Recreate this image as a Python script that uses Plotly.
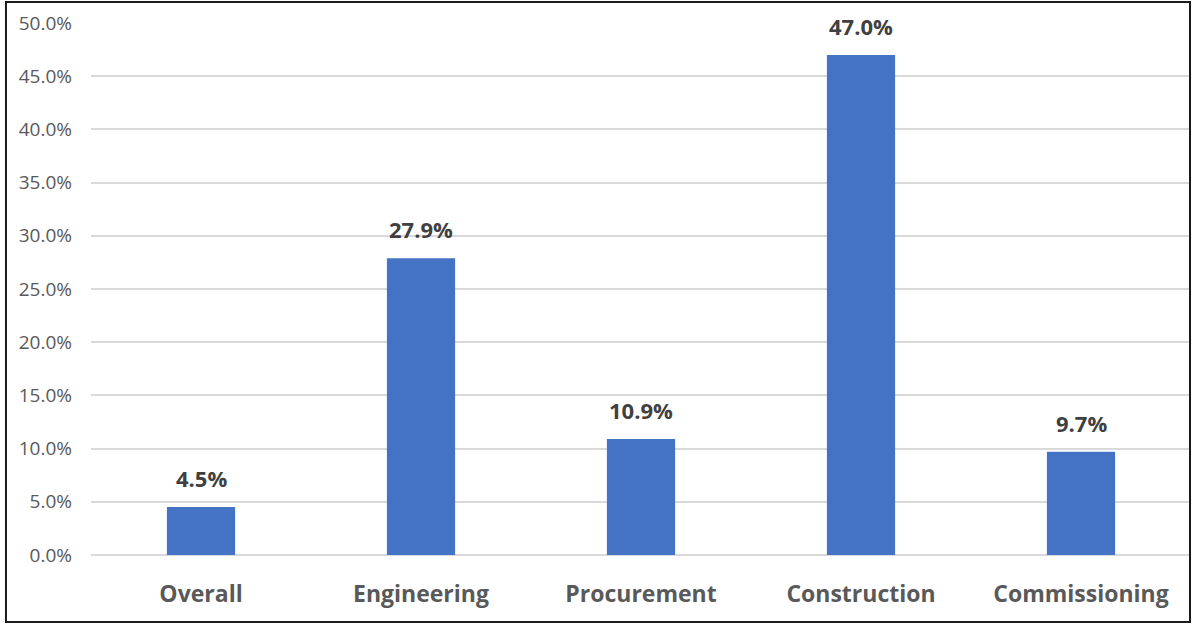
import plotly.graph_objects as go

categories = ["Overall", "Engineering", "Procurement", "Construction", "Commissioning"]
values = [4.5, 27.9, 10.9, 47.0, 9.7]
tick_vals = [0, 5, 10, 15, 20, 25, 30, 35, 40, 45, 50]
tick_text = [f"{v:.1f}%" for v in tick_vals]

FONT = "Open Sans, Liberation Sans, sans-serif"

fig = go.Figure()
fig.add_trace(go.Bar(
    x=categories, y=values,
    marker=dict(color="#4472C4", line=dict(width=0)),
    hoverinfo="skip",
))

for c, v in zip(categories, values):
    fig.add_annotation(
        x=c, y=v, text=f"<b>{v:.1f}%</b>", showarrow=False,
        yanchor="bottom", yshift=12,
        font=dict(family=FONT, size=22, color="#404040"),
    )

fig.add_shape(type="rect", xref="paper", yref="paper",
              x0=-0.0773, x1=0.9991, y0=-0.126, y1=1.0395,
              line=dict(color="#1a1a1a", width=2), fillcolor="rgba(0,0,0,0)", layer="above")

fig.update_layout(
    width=1195, height=625,
    margin=dict(l=91, r=4, t=23, b=70),
    paper_bgcolor="white", plot_bgcolor="white",
    bargap=0.69,
    showlegend=False,
    font=dict(family=FONT),
    xaxis=dict(
        showgrid=False, showline=False, zeroline=False, ticks="",
        tickfont=dict(size=23, color="#595959", family=FONT, weight="bold"),
        ticklabelstandoff=23,
    ),
    yaxis=dict(
        range=[0, 50], tickvals=tick_vals, ticktext=tick_text,
        showgrid=True, gridcolor="#d9d9d9", gridwidth=1.5,
        zeroline=True, zerolinecolor="#d9d9d9", zerolinewidth=1.5,
        showline=False, ticks="",
        tickfont=dict(size=19, color="#595959", family=FONT),
        ticklabelstandoff=18,
    ),
)

fig.write_html("out.html", config={"displayModeBar": False},
               post_script="document.body.style.margin='0';document.body.style.padding='0';")
